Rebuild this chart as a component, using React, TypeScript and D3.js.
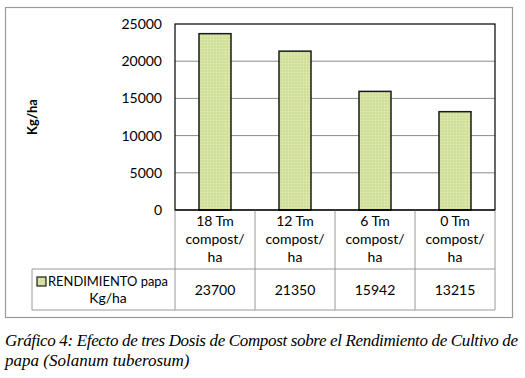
import React from "react";
import * as d3 from "d3";

const categories = [["18 Tm", "compost/", "ha"], ["12 Tm", "compost/", "ha"], ["6 Tm", "compost/", "ha"], ["0 Tm", "compost/", "ha"]];
const values = [23700, 21350, 15942, 13215];
const yTicks = [0, 5000, 10000, 15000, 20000, 25000];
const seriesName = ["RENDIMIENTO papa", "Kg/ha"];
const yLabel = "Kg/ha";
const caption = [
  "Gráfico 4: Efecto de tres Dosis de Compost sobre el Rendimiento de Cultivo de",
  "papa (Solanum tuberosum)",
];

export default function App() {
  const W = 525, H = 378;
  const left = 175, right = 495, top = 24, bottom = 210;
  const x = d3.scaleBand<number>().domain(d3.range(values.length)).range([left, right]);
  const y = d3.scaleLinear().domain([0, 25000]).range([bottom, top]);
  const barW = 32;
  const row1Bottom = 269, row2Bottom = 310, legendLeft = 32;
  const font = "Lato, 'Open Sans', sans-serif";
  const gridColor = "#8c8c8c";
  const tableColor = "#9a9a9a";
  const barFill = "#d4e3a0";
  return (
    <svg width={W} height={H} style={{ position: "absolute", left: 0, top: 0, display: "block" }}>
      <defs>
        <pattern id="dots" width="3" height="3" patternUnits="userSpaceOnUse">
          <rect width="3" height="3" fill={barFill} />
          <rect x="0" y="0" width="1" height="1" fill="#e6edb8" />
          <rect x="1.5" y="1.5" width="1" height="1" fill="#c6d98e" />
        </pattern>
      </defs>
      <rect x={0} y={0} width={W} height={H} fill="#fff" />
      <rect x={5.5} y={7.5} width={507} height={310} fill="#fff" stroke="#9a9a9a" strokeWidth={1.2} />
      {yTicks.map((t) => (
        <g key={t}>
          {t > 0 && t < 25000 && (
            <line x1={left} x2={right} y1={y(t)} y2={y(t)} stroke={gridColor} strokeWidth={1} />
          )}
          <text x={162} y={y(t)} dy="0.35em" textAnchor="end" fontFamily={font} fontSize={14} fill="#000">
            {t}
          </text>
        </g>
      ))}
      {values.map((v, i) => (
        <rect
          key={i}
          x={(x(i) as number) + x.bandwidth() / 2 - barW / 2}
          y={y(v)}
          width={barW}
          height={bottom - y(v)}
          fill="url(#dots)"
          stroke="#1a1a1a"
          strokeWidth={1.5}
        />
      ))}
      <rect x={left} y={top} width={right - left} height={bottom - top} fill="none" stroke="#000" strokeWidth={1.2} />
      {d3.range(values.length + 1).map((i) => {
        const xx = i < values.length ? (x(i) as number) : right;
        return <line key={i} x1={xx} x2={xx} y1={bottom} y2={row2Bottom} stroke={tableColor} strokeWidth={1} />;
      })}
      <line x1={legendLeft} x2={right} y1={row1Bottom} y2={row1Bottom} stroke={tableColor} strokeWidth={1} />
      <line x1={legendLeft} x2={right} y1={row2Bottom} y2={row2Bottom} stroke={tableColor} strokeWidth={1} />
      <line x1={legendLeft} x2={legendLeft} y1={row1Bottom} y2={row2Bottom} stroke={tableColor} strokeWidth={1} />
      <line x1={left} x2={right} y1={bottom} y2={bottom} stroke="#000" strokeWidth={1.2} />
      {categories.map((lines, i) => (
        <text key={i} textAnchor="middle" fontFamily={font} fontSize={14} fill="#000">
          {lines.map((l, j) => (
            <tspan key={j} x={(x(i) as number) + x.bandwidth() / 2} y={226 + j * 18}>
              {l}
            </tspan>
          ))}
        </text>
      ))}
      {values.map((v, i) => (
        <text
          key={i}
          x={(x(i) as number) + x.bandwidth() / 2}
          y={295}
          textAnchor="middle"
          fontFamily={font}
          fontSize={14}
          fill="#000"
        >
          {v}
        </text>
      ))}
      <rect x={37} y={277} width={9} height={9} fill="url(#dots)" stroke="#1a1a1a" strokeWidth={1.2} />
      <text x={48} y={286} fontFamily={font} fontSize={14} fill="#000" textLength={120} lengthAdjust="spacingAndGlyphs">
        {seriesName[0]}
      </text>
      <text x={108} y={303} textAnchor="middle" fontFamily={font} fontSize={14} fill="#000">
        {seriesName[1]}
      </text>
      <text
        transform={`translate(37,${(top + bottom) / 2}) rotate(-90)`}
        textAnchor="middle"
        fontFamily={font}
        fontSize={13}
        fontWeight="bold"
        fill="#000"
      >
        {yLabel}
      </text>
      {caption.map((c, i) => (
        <text
          key={i}
          x={5}
          y={346 + i * 20}
          fontFamily="'Liberation Serif', 'DejaVu Serif', serif"
          fontStyle="italic"
          fontSize={17}
          fill="#000"
          textLength={i === 0 ? 513 : undefined}
          lengthAdjust="spacing"
        >
          {c}
        </text>
      ))}
    </svg>
  );
}
